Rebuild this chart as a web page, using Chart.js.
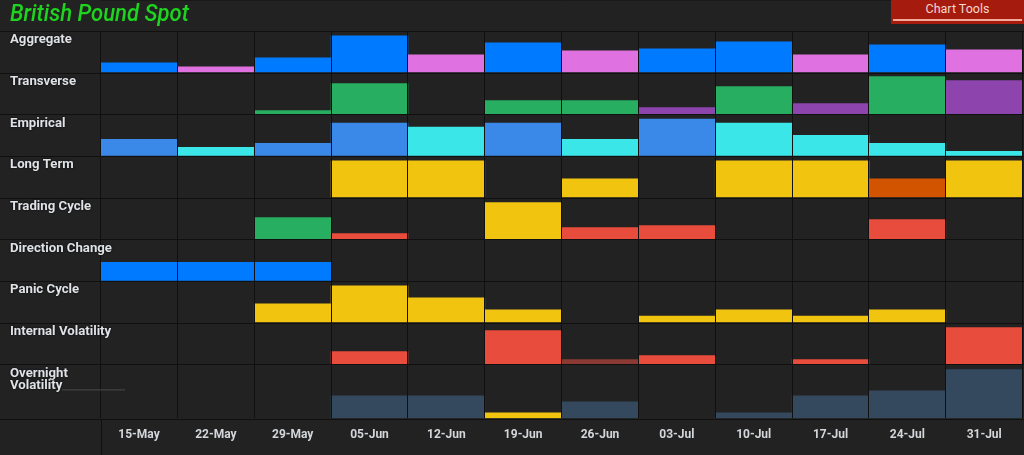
<!DOCTYPE html>
<html>
<head>
<meta charset="utf-8">
<title>British Pound Spot</title>
<script src="https://cdn.jsdelivr.net/npm/chart.js@4"></script>
<style>
  html, body { margin: 0; background: #222222; overflow: hidden; }
  #wrap { position: relative; width: 1024px; height: 455px; }
  #title { position: absolute; left: 10px; top: -1px; font: italic 500 24px Roboto, sans-serif; color: #1ed41e;
           transform: scaleX(0.92); transform-origin: left top; }
  #tools { position: absolute; left: 891px; top: 0; width: 133px; height: 24px; background: #a51c0e;
           color: #f3d6d0; font: 12.5px/18px Roboto, sans-serif; text-align: center; }
  #tools i { position: absolute; left: 2px; right: 2px; top: 19px; height: 2px; background: #f5a79a; }
</style>
</head>
<body>
<div id="wrap">
  <canvas id="chart" width="1024" height="455"></canvas>
  <div id="title">British Pound Spot</div>
  <div id="tools">Chart Tools<i></i></div>
</div>
<script>
const dates = ['15-May', '22-May', '29-May', '05-Jun', '12-Jun', '19-Jun', '26-Jun', '03-Jul', '10-Jul', '17-Jul', '24-Jul', '31-Jul'];

const rowLabels = ['Aggregate', 'Transverse', 'Empirical', 'Long Term', 'Trading Cycle', 'Direction Change', 'Panic Cycle', 'Internal Volatility', ['Overnight', 'Volatility']];

// null = no bar that week
const aggregate = [9, 5, 14, 36, 17, 29, 21, 23, 30, 17, 27, 22];
const transverse = [null, null, 3, 30, null, 13, 13, 6, 27, 10, 37, 33];
const empirical = [16, 8, 12, 32, 28, 32, 16, 36, 32, 20, 12, 4];
const longTerm = [null, null, null, 36, 36, null, 18, null, 36, 36, 18, 36];
const tradingCycle = [null, null, 21, 5, null, 36, 11, 13, null, null, 19, null];
const directionChange = [18, 18, 18, null, null, null, null, null, null, null, null, null];
const panicCycle = [null, null, 18, 36, 24, 12, null, 6, 12, 6, 12, null];
const internalVolatility = [null, null, null, 12, null, 33, 4, 8, null, 4, null, 36];
const overnightVolatility = [null, null, null, 22, 22, 5, 16, null, 5, 22, 27, 48];

const blue = '#007bff', pink = '#df72e0', green = '#27ae60', purple = '#8e44ad', sky = '#3a88e8', cyan = '#3ae6e8';
const yellow = '#f1c40f', orange = '#d35400', red = '#e74c3c', dimRed = '#8a3a32', slate = '#34495e';

const aggregateColors = [blue, pink, blue, blue, pink, blue, pink, blue, blue, pink, blue, pink];
const transverseColors = [green, green, green, green, green, green, green, purple, green, purple, green, purple];
const empiricalColors = [sky, cyan, sky, sky, cyan, sky, cyan, sky, cyan, cyan, cyan, cyan];
const longTermColors = dates.map((d, i) => i === 10 ? orange : yellow);
const tradingColors = [red, red, green, red, red, yellow, red, red, red, red, red, red];
const directionColors = dates.map(() => blue);
const panicColors = dates.map(() => yellow);
const internalColors = dates.map((d, i) => i === 6 ? dimRed : red);
const overnightColors = dates.map((d, i) => i === 5 ? yellow : slate);

const rows = [
  [aggregate, aggregateColors], [transverse, transverseColors], [empirical, empiricalColors],
  [longTerm, longTermColors], [tradingCycle, tradingColors], [directionChange, directionColors],
  [panicCycle, panicColors], [internalVolatility, internalColors], [overnightVolatility, overnightColors],
];

const GRID = '#101010';

// y scales stacked in one column, last one is taller
const scales = {
  x: {
    offset: true,
    grid: { color: GRID, offset: true, drawTicks: false, z: 1 },
    border: { color: GRID },
    ticks: { color: '#d3d6da', font: { family: 'Roboto', size: 12, weight: 'bold' }, padding: 9, maxRotation: 0, autoSkip: false },
  },
};
rows.forEach((r, i) => {
  const last = i === rows.length - 1;
  scales['y' + i] = {
    display: false,
    stack: 'rows',
    stackWeight: last ? 54 : 41.5,
    weight: rows.length - i,
    min: -0.7,
    max: last ? 53.3 : 40.8,
  };
});

// row lines and labels are tied to the y scales
const rowDecor = {
  id: 'rowDecor',
  afterDraw(chart) {
    const { ctx, chartArea, width, height } = chart;
    ctx.save();
    ctx.strokeStyle = GRID;
    ctx.lineWidth = 1;
    ctx.beginPath();
    rows.forEach((r, i) => {
      const top = Math.round(chart.scales['y' + i].top) + 0.5;
      ctx.moveTo(0, top);
      ctx.lineTo(width, top);
    });
    const bottom = Math.round(chartArea.bottom) + 0.5;
    ctx.moveTo(0, bottom);
    ctx.lineTo(width, bottom);
    const left = Math.round(chartArea.left) + 0.5;
    ctx.moveTo(left, bottom);
    ctx.lineTo(left, height);
    ctx.stroke();

    ctx.font = 'bold 13.2px Roboto';
    ctx.fillStyle = '#dfe2e6';
    ctx.textBaseline = 'middle';
    ctx.shadowColor = '#000';
    ctx.shadowBlur = 2;
    rowLabels.forEach((label, i) => {
      const top = chart.scales['y' + i].top;
      const lines = [].concat(label);
      lines.forEach((t, n) => ctx.fillText(t, 10, top + 9 + n * 12));
      if (lines.length > 1) {
        ctx.shadowBlur = 0;
        ctx.strokeStyle = '#4a4a4a';
        ctx.beginPath();
        ctx.moveTo(62, top + 25.5);
        ctx.lineTo(125, top + 25.5);
        ctx.stroke();
      }
    });
    ctx.restore();
  },
};

new Chart(document.getElementById('chart'), {
  type: 'bar',
  data: {
    labels: dates,
    datasets: rows.map((r, i) => ({
      label: Array.isArray(rowLabels[i]) ? rowLabels[i].join(' ') : rowLabels[i],
      data: r[0],
      backgroundColor: r[1],
      yAxisID: 'y' + i,
      stack: 'rows',
      categoryPercentage: 1,
      barPercentage: 1,
    })),
  },
  options: {
    responsive: false,
    animation: false,
    layout: { padding: { left: 100.6, top: 31, right: 1.4, bottom: 4 } },
    plugins: { legend: { display: false }, title: { display: false }, tooltip: { enabled: true } },
    scales,
  },
  plugins: [rowDecor],
});
</script>
</body>
</html>
